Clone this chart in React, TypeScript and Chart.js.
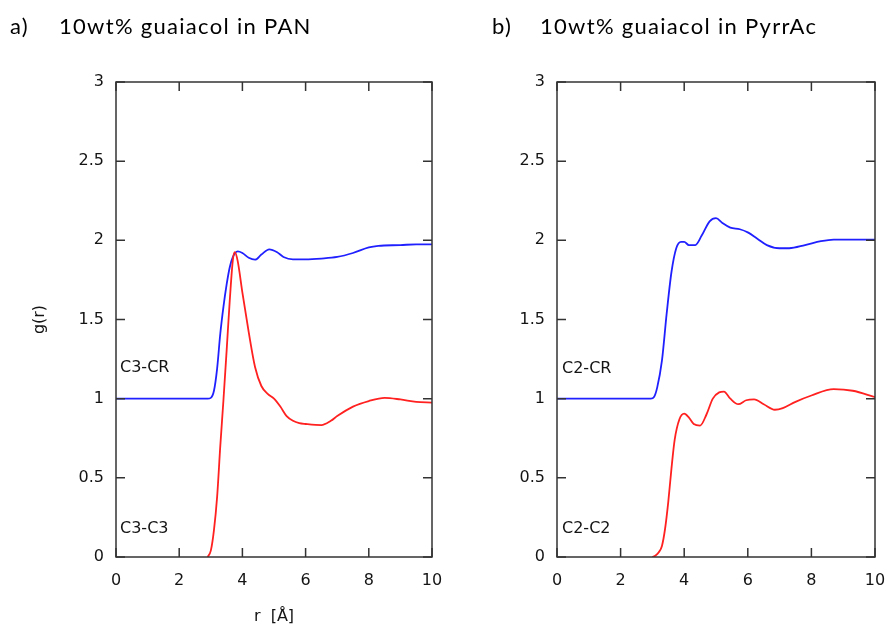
import React, { useEffect, useRef } from "react";
import { Chart, registerables } from "chart.js";

Chart.register(...registerables);

// ---- axis ticks ----
const rTicks = [0, 2, 4, 6, 8, 10];
const gTicks = [0, 0.5, 1, 1.5, 2, 2.5, 3];

// ---- titles / labels ----
const titleA = ["a)", "10wt% guaiacol in PAN"];
const titleB = ["b)", "10wt% guaiacol in PyrrAc"];
const namesA = ["C3-CR", "C3-C3"];
const namesB = ["C2-CR", "C2-C2"];
const xAxisTitle = "r  [Å]";
const yAxisTitle = "g(r)";

// ---- panel a) PAN ----
const panCR_r = [0, 2.9, 3.0, 3.1, 3.2, 3.3, 3.4, 3.5, 3.6, 3.7, 3.85, 4.0, 4.2, 4.4, 4.6, 4.85, 5.1, 5.3, 5.6, 6.0, 6.5, 7.0, 7.5, 8.0, 8.3, 9.0, 9.5, 10];
const panCR_g = [1, 1, 1.005, 1.05, 1.19, 1.41, 1.58, 1.72, 1.83, 1.895, 1.93, 1.92, 1.89, 1.878, 1.91, 1.943, 1.925, 1.895, 1.88, 1.88, 1.885, 1.895, 1.92, 1.955, 1.965, 1.97, 1.975, 1.975];

const panCC_r = [2.9, 3.0, 3.1, 3.2, 3.3, 3.4, 3.5, 3.6, 3.7, 3.76, 3.85, 4.0, 4.2, 4.4, 4.6, 4.8, 5.0, 5.2, 5.4, 5.6, 5.8, 6.0, 6.5, 6.8, 7.0, 7.5, 8.0, 8.5, 9.0, 9.5, 10];
const panCC_g = [0, 0.04, 0.17, 0.38, 0.7, 0.99, 1.3, 1.62, 1.88, 1.925, 1.87, 1.67, 1.42, 1.2, 1.08, 1.03, 1.0, 0.95, 0.89, 0.86, 0.845, 0.84, 0.833, 0.86, 0.89, 0.95, 0.985, 1.005, 0.995, 0.98, 0.975];

// ---- panel b) PyrrAc ----
const pyrCR_r = [0, 2.95, 3.05, 3.15, 3.3, 3.45, 3.6, 3.75, 3.9, 4.0, 4.15, 4.35, 4.55, 4.8, 5.0, 5.2, 5.45, 5.75, 6.0, 6.3, 6.6, 7.0, 7.3, 7.8, 8.3, 8.7, 9.3, 10];
const pyrCR_g = [1, 1, 1.01, 1.07, 1.24, 1.54, 1.8, 1.95, 1.99, 1.99, 1.97, 1.97, 2.03, 2.12, 2.14, 2.11, 2.08, 2.07, 2.05, 2.01, 1.97, 1.95, 1.95, 1.97, 1.995, 2.005, 2.005, 2.005];

const pyrCC_r = [3.0, 3.1, 3.2, 3.3, 3.4, 3.5, 3.6, 3.7, 3.85, 4.0, 4.15, 4.3, 4.5, 4.7, 4.9, 5.1, 5.25, 5.45, 5.7, 5.95, 6.2, 6.5, 6.85, 7.1, 7.5, 8.0, 8.7, 9.3, 10];
const pyrCC_g = [0, 0.01, 0.03, 0.07, 0.18, 0.35, 0.56, 0.74, 0.87, 0.905, 0.88, 0.84, 0.83, 0.9, 1.0, 1.04, 1.045, 1.0, 0.965, 0.99, 0.995, 0.965, 0.93, 0.94, 0.98, 1.02, 1.06, 1.05, 1.01];

const BLUE = "#2020ff";
const RED = "#ff2020";
const TEXT = "#141414";
const FRAME = "#333333";
const TICK_FONT = { family: "'DejaVu Sans', Verdana, sans-serif", size: 16 };

const frameTicks = {
  id: "frameTicks",
  afterDatasetsDraw(chart: any) {
    const { ctx, chartArea, scales } = chart;
    const { left, right, top, bottom } = chartArea;
    const xs = scales.x;
    const ys = scales.y;
    const L = 9;
    ctx.save();
    ctx.strokeStyle = FRAME;
    ctx.lineWidth = 1.5;
    ctx.beginPath();
    xs.ticks.forEach((t: any) => {
      const p = xs.getPixelForValue(t.value);
      ctx.moveTo(p, bottom);
      ctx.lineTo(p, bottom - L);
      ctx.moveTo(p, top);
      ctx.lineTo(p, top + L);
    });
    ys.ticks.forEach((t: any) => {
      const p = ys.getPixelForValue(t.value);
      ctx.moveTo(left, p);
      ctx.lineTo(left + L, p);
      ctx.moveTo(right, p);
      ctx.lineTo(right - L, p);
    });
    ctx.stroke();
    ctx.strokeRect(left, top, right - left, bottom - top);
    ctx.restore();
  },
};

type Series = { r: number[]; g: number[]; color: string };

function Panel(props: {
  left: number;
  axisWidth: number;
  padRight: number;
  series: Series[];
  showTitles: boolean;
}) {
  const ref = useRef<HTMLCanvasElement | null>(null);
  useEffect(() => {
    if (!ref.current) return;
    const chart = new Chart(ref.current, {
      type: "line",
      data: {
        datasets: props.series.map((s) => ({
          data: s.r.map((r, i) => ({ x: r, y: s.g[i] })),
          borderColor: s.color,
          borderWidth: 1.8,
          pointRadius: 0,
          fill: false,
          cubicInterpolationMode: "monotone" as const,
        })),
      },
      options: {
        animation: false,
        responsive: false,
        devicePixelRatio: 1,
        layout: { padding: { top: 82, right: props.padRight, left: 0, bottom: 0 } },
        plugins: { legend: { display: false }, tooltip: { enabled: false } },
        scales: {
          x: {
            type: "linear",
            min: 0,
            max: 10,
            afterBuildTicks: (s: any) => {
              s.ticks = rTicks.map((v) => ({ value: v }));
            },
            grid: { display: false, drawTicks: false },
            border: { display: false },
            ticks: {
              padding: 14,
              color: TEXT,
              font: TICK_FONT,
              maxRotation: 0,
              autoSkip: false,
              callback: (v: any) => String(v),
            },
            title: {
              display: props.showTitles,
              text: xAxisTitle,
              color: TEXT,
              font: TICK_FONT,
              padding: { top: 0, bottom: 0 },
            },
            afterFit: (s: any) => {
              s.height = 69;
              s.paddingLeft = 0;
              s.paddingRight = 0;
            },
          },
          y: {
            type: "linear",
            min: 0,
            max: 3,
            afterBuildTicks: (s: any) => {
              s.ticks = gTicks.map((v) => ({ value: v }));
            },
            grid: { display: false, drawTicks: false },
            border: { display: false },
            ticks: {
              padding: 12,
              color: TEXT,
              font: TICK_FONT,
              autoSkip: false,
              callback: (v: any) => String(v),
            },
            title: {
              display: props.showTitles,
              text: yAxisTitle,
              color: TEXT,
              font: TICK_FONT,
              padding: { top: 30, bottom: 0 },
            },
            afterFit: (s: any) => {
              s.width = props.axisWidth;
              s.paddingTop = 0;
              s.paddingBottom = 0;
            },
          },
        },
      },
      plugins: [frameTicks],
    } as any);
    return () => chart.destroy();
  }, []);
  return (
    <canvas
      ref={ref}
      width={444}
      height={626}
      style={{ position: "absolute", left: props.left, top: 0, width: 444, height: 626 }}
    />
  );
}

const titleStyle: React.CSSProperties = {
  position: "absolute",
  top: 15,
  fontFamily: "Lato, 'Open Sans', sans-serif",
  fontSize: 22,
  lineHeight: "22px",
  letterSpacing: "1.3px",
  color: "#000",
  whiteSpace: "nowrap",
};

const labelStyle: React.CSSProperties = {
  position: "absolute",
  fontFamily: "'DejaVu Sans', Verdana, sans-serif",
  fontSize: 16,
  lineHeight: "16px",
  color: TEXT,
  whiteSpace: "nowrap",
};

export default function App() {
  return (
    <div style={{ position: "absolute", left: 0, top: 0, width: 888, height: 626, background: "#fff", overflow: "hidden" }}>
      <Panel
        left={0}
        axisWidth={116}
        padRight={12}
        showTitles={true}
        series={[
          { r: panCC_r, g: panCC_g, color: RED },
          { r: panCR_r, g: panCR_g, color: BLUE },
        ]}
      />
      <Panel
        left={444}
        axisWidth={113}
        padRight={13}
        showTitles={false}
        series={[
          { r: pyrCC_r, g: pyrCC_g, color: RED },
          { r: pyrCR_r, g: pyrCR_g, color: BLUE },
        ]}
      />
      <span style={{ ...titleStyle, left: 10 }}>{titleA[0]}</span>
      <span style={{ ...titleStyle, left: 59 }}>{titleA[1]}</span>
      <span style={{ ...titleStyle, left: 492 }}>{titleB[0]}</span>
      <span style={{ ...titleStyle, left: 540 }}>{titleB[1]}</span>
      <span style={{ ...labelStyle, left: 120, top: 359 }}>{namesA[0]}</span>
      <span style={{ ...labelStyle, left: 120, top: 520 }}>{namesA[1]}</span>
      <span style={{ ...labelStyle, left: 562, top: 360 }}>{namesB[0]}</span>
      <span style={{ ...labelStyle, left: 562, top: 520 }}>{namesB[1]}</span>
    </div>
  );
}
